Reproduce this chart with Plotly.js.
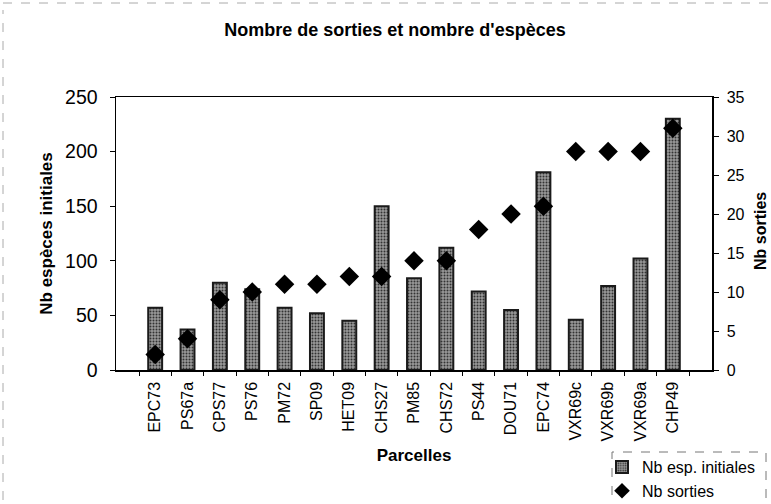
<!DOCTYPE html>
<html><head><meta charset="utf-8">
<script src="https://cdn.plot.ly/plotly-3.0.1.min.js"></script>
<style>html,body{margin:0;padding:0;background:#fff}#c{width:771px;height:504px}</style>
</head><body><div id="c"></div>
<script>
var parcelles = ["EPC73","PS67a","CPS77","PS76","PM72","SP09","HET09","CHS27","PM85","CHS72","PS44","DOU71","EPC74","VXR69c","VXR69b","VXR69a","CHP49"];
var nbEspInitiales = [57,37,80,74,57,52,45,150,84,112,72,55,181,46,77,102,230];
var nbSorties = [2,4,9,10,11,11,12,12,14,14,18,20,21,28,28,28,31];

var F = "Arial, 'Liberation Sans', sans-serif";
var L = 116, R = 712, T = 97, B = 370;
function px(x){ return (x - L) / (R - L); }
function py(y){ return (B - y) / (B - T); }

var data = [
  {type:"bar", x:parcelles, y:nbEspInitiales, name:"Nb esp. initiales", width:0.43,
   marker:{color:"#888", line:{color:"#1a1a1a", width:2},
           pattern:{shape:".", fgcolor:"#333", bgcolor:"#999", size:3, solidity:0.35}}},
  {type:"scatter", mode:"markers", x:parcelles, y:nbSorties, yaxis:"y2", name:"Nb sorties",
   marker:{symbol:"diamond", size:15, color:"#000"}}
];
var layout = {
  width:771, height:504,
  margin:{l:L, r:771-R, t:T, b:504-B, autoexpand:false},
  paper_bgcolor:"#fff", plot_bgcolor:"#fff",
  font:{family:F, color:"#000", size:16},
  title:{text:"<b>Nombre de sorties et nombre d'espèces</b>", font:{size:18, family:F},
         x:395/771, xanchor:"center", xref:"container", y:1-30/504, yref:"container", yanchor:"middle"},
  xaxis:{tickangle:-90, tickfont:{size:16}, showline:true, linecolor:"#000", linewidth:1.5, mirror:true,
         ticks:"outside", tickson:"boundaries", ticklen:4, tickcolor:"#000", showgrid:false, ticklabelstandoff:4, automargin:false,
         title:{text:"<b>Parcelles</b>", font:{size:17}, standoff:8}},
  yaxis:{range:[0,250], dtick:50, showline:true, linecolor:"#000", linewidth:1.5, ticks:"outside", ticklen:5,
         tickcolor:"#000", showgrid:false, zeroline:false, tickfont:{size:19.5}, ticklabelstandoff:8, automargin:false,
         title:{text:"<b>Nb espèces initiales</b>", font:{size:17}, standoff:8}},
  yaxis2:{range:[0,35], dtick:5, overlaying:"y", side:"right", showline:true, linecolor:"#000", linewidth:1.5,
          ticks:"outside", ticklen:5, tickcolor:"#000", showgrid:false, zeroline:false, tickfont:{size:16},
          ticklabelstandoff:5, automargin:false},
  annotations:[
    {text:"<b>Nb sorties</b>", xref:"paper", yref:"paper", x:px(760), y:py(231), xanchor:"center", yanchor:"middle",
     textangle:-90, showarrow:false, font:{size:16}}
  ],
  showlegend:true,
  legend:{xref:"container", yref:"container", x:602/771, y:1-450/504, xanchor:"left", yanchor:"top",
          bgcolor:"rgba(0,0,0,0)", font:{size:16}, itemsizing:"constant", tracegroupgap:0},
  shapes:[
    {type:"rect", xref:"paper", yref:"paper", x0:px(612), x1:px(766), y0:py(506), y1:py(452),
     line:{color:"#777", width:1, dash:"dash"}},
    {type:"line", xref:"paper", yref:"paper", x0:px(3), x1:px(3), y0:py(500), y1:py(10),
     line:{color:"#aaa", width:1, dash:"dash"}},
    {type:"line", xref:"paper", yref:"paper", x0:px(3), x1:px(771), y0:py(3), y1:py(3),
     line:{color:"#aaa", width:1, dash:"dash"}}
  ]
};
Plotly.newPlot("c", data, layout, {displayModeBar:false, staticPlot:true});
</script></body></html>
